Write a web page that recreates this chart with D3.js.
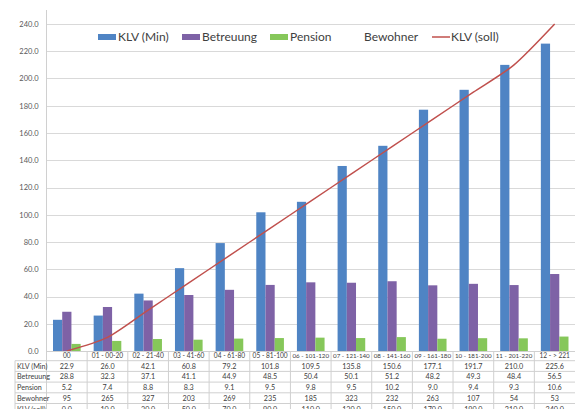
<!DOCTYPE html>
<html><head><meta charset="utf-8">
<script src="https://cdn.jsdelivr.net/npm/d3@7"></script>
<style>body{margin:0;background:#fff}svg{display:block}</style>
</head><body>
<svg id="c" width="575" height="409"></svg>
<script>
const categories = ["00","01 - 00-20","02 - 21-40","03 - 41-60","04 - 61-80","05 - 81-100","06 - 101-120","07 - 121-140","08 - 141-160","09 - 161-180","10 - 181-200","11 - 201-220","12 - > 221"];
const klvMin    = [22.9,26.0,42.1,60.8,79.2,101.8,109.5,135.8,150.6,177.1,191.7,210.0,225.6];
const betreuung = [28.8,32.3,37.1,41.1,44.9,48.5,50.4,50.1,51.2,48.2,49.3,48.4,56.5];
const pension   = [5.2,7.4,8.8,8.3,9.1,9.5,9.8,9.5,10.2,9.0,9.4,9.3,10.6];
const bewohner  = [95,265,327,203,269,235,185,323,232,263,107,54,53];
const klvSoll   = [0,10,30,50,70,90,110,130,150,170,190,210,240];
const yTicks    = [0,20,40,60,80,100,120,140,160,180,200,220,240];
const barSeries = ["KLV (Min)","Betreuung","Pension"];
const rowNames  = ["KLV (Min)","Betreuung","Pension","Bewohner","KLV (soll)"];

const colors = {"KLV (Min)":"#4F84C4","Betreuung":"#7E62A6","Pension":"#86C75A","KLV (soll)":"#C0504D"};
const FONT = "Lato, 'Open Sans', sans-serif";
const SMALL = "Lato, sans-serif";
const svg = d3.select("#c");
const L = 46.5, R = 575, T = 24, B = 351;

const x = d3.scaleBand().domain(categories).range([L, R]).paddingInner(0).paddingOuter(0);
const bw = x.bandwidth();
const xs = d3.scaleBand().domain(barSeries).range([bw*0.16, bw*0.84]).padding(0);
const y = d3.scaleLinear().domain([0,240]).range([B, T]);

// gridlines
svg.append("g").selectAll("line").data(yTicks.filter(d=>d>0)).join("line")
  .attr("x1", L).attr("x2", R).attr("y1", d=>Math.round(y(d))+0.5).attr("y2", d=>Math.round(y(d))+0.5)
  .attr("stroke","#d9d9d9").attr("stroke-width",1);

// y axis
const yAxis = svg.append("g").attr("transform",`translate(${L},0)`)
  .call(d3.axisLeft(y).tickValues(yTicks).tickFormat(d3.format(".1f")).tickSize(0).tickPadding(8));
yAxis.select(".domain").remove();
yAxis.selectAll("text").attr("font-family",SMALL).attr("font-size","7.5px").attr("fill","#595959");
svg.append("line").attr("x1",L).attr("x2",L).attr("y1",10).attr("y2",409).attr("stroke","#d0d0d0");

// bars
const data = categories.map((c,i)=>({c, vals:[klvMin[i],betreuung[i],pension[i]]}));
svg.append("g").selectAll("g").data(data).join("g")
  .attr("transform", d=>`translate(${x(d.c)},0)`)
  .selectAll("rect").data(d=>d.vals.map((v,j)=>({s:barSeries[j], v}))).join("rect")
  .attr("x", d=>xs(d.s)).attr("width", xs.bandwidth())
  .attr("y", d=>y(d.v)).attr("height", d=>B - y(d.v))
  .attr("fill", d=>colors[d.s]);

// line
const line = d3.line().x((d,i)=>x(categories[i])+bw/2).y(d=>y(d)).curve(d3.curveCardinal.tension(0.25));
svg.append("path").datum(klvSoll).attr("d", line).attr("fill","none").attr("stroke",colors["KLV (soll)"]).attr("stroke-width",1.5);

// x axis line
svg.append("line").attr("x1",L).attr("x2",R).attr("y1",B+0.5).attr("y2",B+0.5).attr("stroke","#d0d0d0");

// table
const rowH = 10.7, headB = 360.7, tLeft = 15;
const tg = svg.append("g");
const hl = d3.range(0, rowNames.length+1).map(i=>headB + i*rowH);
tg.selectAll("line.h").data(hl).join("line").attr("class","h")
  .attr("x1",tLeft).attr("x2",R).attr("y1",d=>d).attr("y2",d=>d).attr("stroke","#d0d0d0");
tg.selectAll("line.v").data(categories.slice(1)).join("line").attr("class","v")
  .attr("x1",d=>x(d)).attr("x2",d=>x(d)).attr("y1",B).attr("y2",409).attr("stroke","#d0d0d0");
tg.append("line").attr("x1",tLeft).attr("x2",tLeft).attr("y1",headB).attr("y2",409).attr("stroke","#d0d0d0");
tg.selectAll("text.hd").data(categories).join("text").attr("class","hd")
  .attr("x",d=>x(d)+bw/2).attr("y",(B+headB)/2+2.6).attr("text-anchor","middle")
  .attr("font-family",SMALL).attr("font-size","6.6px").attr("fill","#404040").text(d=>d)
  .each(function(){
    const w = this.getComputedTextLength();
    const maxW = bw - 4;
    if (w > maxW) d3.select(this).attr("font-size", (6.6*maxW/w).toFixed(2)+"px");
  });
const rows = [klvMin.map(v=>v.toFixed(1)), betreuung.map(v=>v.toFixed(1)), pension.map(v=>v.toFixed(1)), bewohner.map(v=>String(v)), klvSoll.map(v=>v.toFixed(1))];
rowNames.forEach((name,r)=>{
  const cy = headB + r*rowH + rowH/2 + 2.7;
  tg.append("text").attr("x",tLeft+2).attr("y",cy).attr("font-family",SMALL).attr("font-size","7.2px").attr("fill","#404040").text(name);
  tg.selectAll(null).data(rows[r]).join("text")
    .attr("x",(d,i)=>x(categories[i])+bw/2).attr("y",cy).attr("text-anchor","middle")
    .attr("font-family",SMALL).attr("font-size","7.2px").attr("fill","#404040").text(d=>d);
});

// legend
const lg = svg.append("g").attr("font-family",FONT).attr("font-size","12px").attr("fill","#404040");
const legItems = [
  {name:"KLV (Min)", type:"rect", sx:98, tx:118},
  {name:"Betreuung", type:"rect", sx:182, tx:202},
  {name:"Pension", type:"rect", sx:270, tx:290},
  {name:"Bewohner", type:"none", sx:344, tx:364},
  {name:"KLV (soll)", type:"line", sx:432, tx:451}
];
legItems.forEach(it=>{
  if(it.type==="rect") lg.append("rect").attr("x",it.sx).attr("y",34).attr("width",18).attr("height",6).attr("fill",colors[it.name]);
  if(it.type==="line") lg.append("line").attr("x1",it.sx).attr("x2",it.sx+18).attr("y1",37).attr("y2",37).attr("stroke",colors[it.name]).attr("stroke-width",1.5);
  lg.append("text").attr("x",it.tx).attr("y",41).text(it.name);
});
</script>
</body></html>
